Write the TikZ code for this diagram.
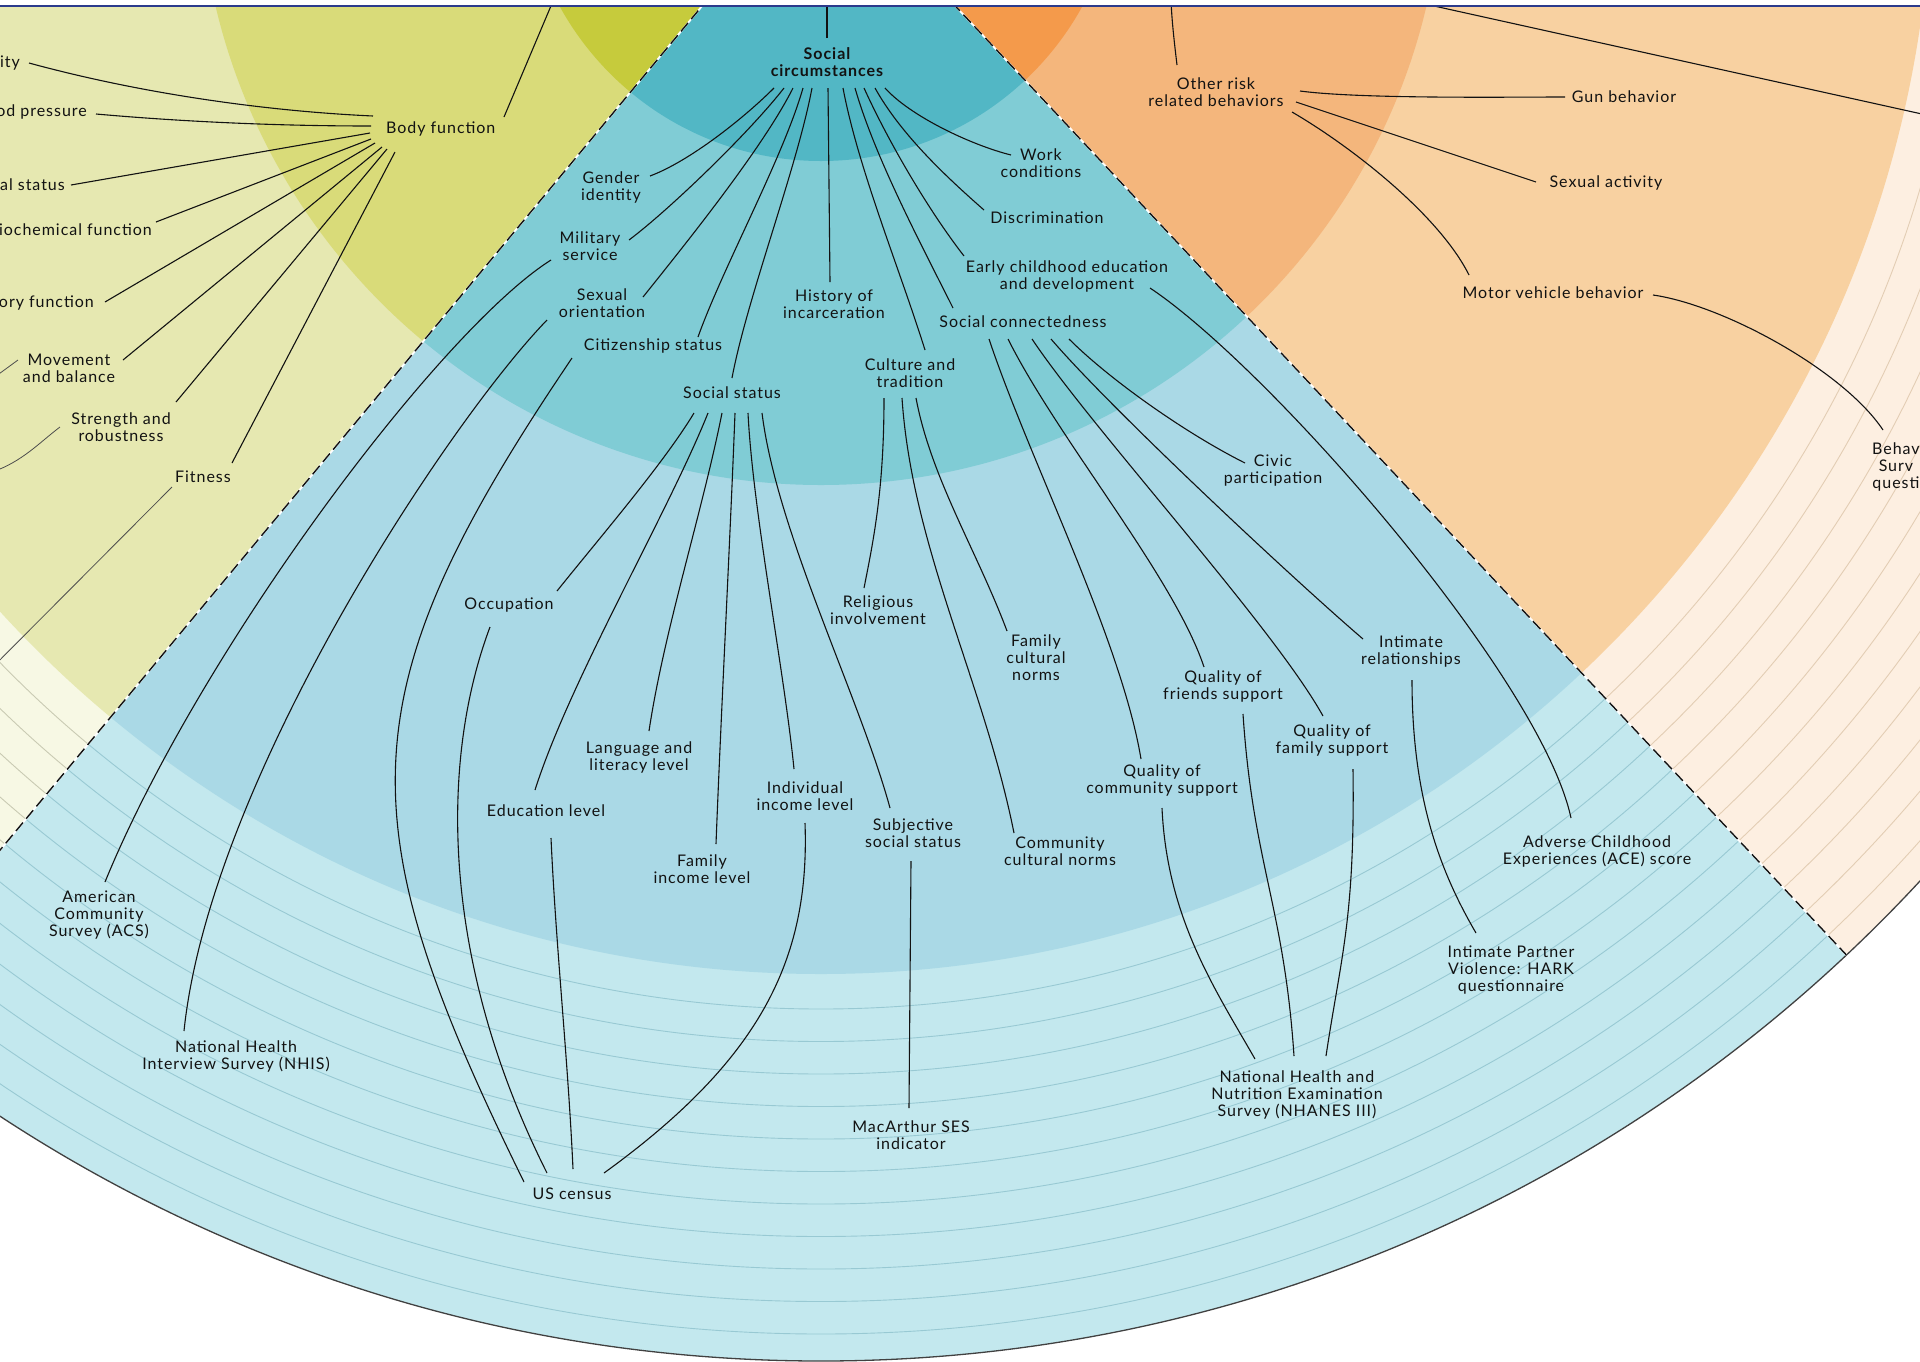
\documentclass[tikz,border=0pt]{standalone}
\usepackage{fontspec}
\setmainfont{Lato}[LetterSpace=6]
\usepackage{tikz}

\definecolor{ink}{HTML}{121212}
\definecolor{cenA}{HTML}{52B7C5}
\definecolor{cenB}{HTML}{80CCD5}
\definecolor{cenC}{HTML}{AAD9E6}
\definecolor{cenD}{HTML}{C3E8EE}
\definecolor{cenLine}{HTML}{98C9D3}
\definecolor{lefA}{HTML}{C6CB3C}
\definecolor{lefB}{HTML}{D9DB79}
\definecolor{lefC}{HTML}{E6E8B1}
\definecolor{lefD}{HTML}{F7F8E4}
\definecolor{lefLine}{HTML}{C9CAB3}
\definecolor{rigA}{HTML}{F49A4B}
\definecolor{rigB}{HTML}{F4B67C}
\definecolor{rigC}{HTML}{F8D1A1}
\definecolor{rigD}{HTML}{FDEFE1}
\definecolor{rigLine}{HTML}{E3CDB4}
\definecolor{frame}{HTML}{2B3A8C}

\newcommand{\lblsize}{\fontsize{16}{17}\selectfont}

\begin{document}
\begin{tikzpicture}[x=1pt, y=-1pt,
  lbl/.style={align=center, inner sep=1pt, text=ink, font=\lblsize},
  link/.style={draw=ink, line width=1.1pt},
  faint/.style={draw=ink!75, line width=0.8pt},
  ringline/.style={line width=0.9pt}]

\useasboundingbox (0,0) rectangle (1920,1361);
\clip (0,0) rectangle (1920,1361);

\coordinate (C) at (821,-137);

% left sector
\begin{scope}
\clip (C) -- (-841,1862) -- (-3000,1862) -- (-3000,-137) -- cycle;
\fill[lefD] (C) circle[radius=1498pt];
\fill[lefC] (C) circle[radius=1111pt];
\fill[lefB] (C) circle[radius=622pt];
\fill[lefA] (C) circle[radius=298pt];
\foreach \k [evaluate=\k as \r using 1146+32.5*\k] in {0,...,10}
  \draw[ringline, lefLine] (C) circle[radius=\r pt];
\end{scope}

% middle sector
\begin{scope}
\clip (C) -- (-841,1862) -- (2601,1758) -- cycle;
\fill[cenD] (C) circle[radius=1498pt];
\fill[cenC] (C) circle[radius=1111pt];
\fill[cenB] (C) circle[radius=622pt];
\fill[cenA] (C) circle[radius=298pt];
\foreach \k [evaluate=\k as \r using 1146+32.5*\k] in {0,...,10}
  \draw[ringline, cenLine] (C) circle[radius=\r pt];
\end{scope}

% right sector
\begin{scope}
\clip (C) -- (2601,1758) -- (4000,1758) -- (4000,-137) -- cycle;
\fill[rigD] (C) circle[radius=1498pt];
\fill[rigC] (C) circle[radius=1111pt];
\fill[rigB] (C) circle[radius=622pt];
\fill[rigA] (C) circle[radius=298pt];
\foreach \k [evaluate=\k as \r using 1146+32.5*\k] in {0,...,10}
  \draw[ringline, rigLine] (C) circle[radius=\r pt];
\end{scope}

\draw[ink!80, line width=1.3pt] (C) circle[radius=1498pt];

\foreach \a in {129.75, 46.8}{
  \draw[white, line width=1.8pt] (C) -- ++(\a:1498);
  \draw[ink, line width=1.4pt, dash pattern=on 11pt off 5pt] (C) -- ++(\a:1498);
}

\fill[white] (0,0) rectangle (1920,5);
\draw[frame, line width=2pt] (0,6) -- (1920,6);

% left labels
\node[lbl, anchor=east] (bfA) at (21,63) {ity};
\node[lbl, anchor=east] (bfB) at (88,112) {od pressure};
\node[lbl, anchor=east] (bfC) at (66,185) {al status};
\node[lbl, anchor=east] (bfD) at (153,230) {iochemical function};
\node[lbl, anchor=east] (bfE) at (95,303) {ory function};
\node[lbl] (move) at (69,368) {Movement\\and balance};
\node[lbl] (stren) at (121,427) {Strength and\\robustness};
\node[lbl] (fit) at (203,477) {Fitness};
\node[lbl, anchor=west] (body) at (385,129) {Body function};

% middle labels
\node[lbl, font=\lblsize\bfseries] (soc) at (827,62) {Social\\circumstances};
\node[lbl] (gend) at (611,187) {Gender\\identity};
\node[lbl] (mil) at (590,246) {Military\\service};
\node[lbl] (sexo) at (602,303) {Sexual\\orientation};
\node[lbl] (citz) at (653,346) {Citizenship status};
\node[lbl] (socst) at (732,393) {Social status};
\node[lbl] (hist) at (834,304) {History of\\incarceration};
\node[lbl] (cult) at (910,373) {Culture and\\tradition};
\node[lbl] (conn) at (1023,322) {Social connectedness};
\node[lbl] (early) at (1067,276) {Early childhood education\\and development};
\node[lbl] (disc) at (1047,218) {Discrimination};
\node[lbl] (work) at (1041,163) {Work\\conditions};
\node[lbl] (civic) at (1273,471) {Civic\\participation};
\node[lbl] (inti) at (1411,651) {Intimate\\relationships};
\node[lbl] (qfam) at (1332,740) {Quality of\\family support};
\node[lbl] (qfri) at (1223,686) {Quality of\\friends support};
\node[lbl] (qcom) at (1162,780) {Quality of\\community support};
\node[lbl] (famc) at (1036,658) {Family\\cultural\\norms};
\node[lbl] (relig) at (878,610) {Religious\\involvement};
\node[lbl] (comm) at (1060,851) {Community\\cultural norms};
\node[lbl] (subj) at (913,833) {Subjective\\social status};
\node[lbl] (indi) at (805,796) {Individual\\income level};
\node[lbl] (fami) at (702,869) {Family\\income level};
\node[lbl] (lang) at (639,757) {Language and\\literacy level};
\node[lbl] (edu) at (546,811) {Education level};
\node[lbl] (occ) at (509,605) {Occupation};

% sources
\node[lbl] (acs) at (99,915) {American\\Community\\Survey (ACS)};
\node[lbl] (nhis) at (236,1056) {National Health\\Interview Survey (NHIS)};
\node[lbl] (census) at (572,1194) {US census};
\node[lbl] (mac) at (911,1135) {MacArthur SES\\indicator};
\node[lbl] (nhanes) at (1297,1095) {National Health and\\Nutrition Examination\\Survey (NHANES III)};
\node[lbl] (ipv) at (1511,970) {Intimate Partner\\Violence: HARK\\questionnaire};
\node[lbl] (ace) at (1597,851) {Adverse Childhood\\Experiences (ACE) score};

% right labels
\node[lbl] (risk) at (1216,92) {Other risk\\related behaviors};
\node[lbl] (gun) at (1624,97) {Gun behavior};
\node[lbl] (sexa) at (1606,183) {Sexual activity};
\node[lbl] (motor) at (1553,293) {Motor vehicle behavior};
\node[lbl, anchor=west] (behav) at (1871,467) {Behav\\Surv\\questi};

\coordinate (bodyup) at (556,-6);
\coordinate (socup) at (827,-6);
\coordinate (moveout) at (-8,379);
\coordinate (strenout) at (-8,472);
\coordinate (fitout) at (-40,700);
\coordinate (riskup) at (1171,-6);
\coordinate (trA) at (1416,2);
\coordinate (trB) at (1940,118);

% body function
\draw[link] ([shift={(8,0)}]bfA.east) .. controls +(110,30) and +(-110,-5) .. ([shift={(-12,-13)}]body.west);
\draw[link] ([shift={(8,2)}]bfB.east) .. controls +(90,8) and +(-90,0) .. ([shift={(-14,-3)}]body.west);
\draw[link] ([shift={(5,0)}]bfC.east) -- ([shift={(-15,4)}]body.west);
\draw[link] ([shift={(3,-8)}]bfD.east) -- ([shift={(-14,10)}]body.west);
\draw[link] ([shift={(10,-1)}]bfE.east) -- ([shift={(-10,14)}]body.west);
\draw[link] ([shift={(54,-8)}]move.center) -- ([shift={(-3,18)}]body.west);
\draw[link] ([shift={(55,-25)}]stren.center) -- ([shift={(2,20)}]body.west);
\draw[link] ([shift={(29,-14)}]fit.center) -- ([shift={(10,23)}]body.west);
\draw[link] ([shift={(119,-12)}]body.west) -- (bodyup);
\draw[faint] (moveout) -- ([shift={(-51,-8)}]move.center);
\draw[faint] (strenout) .. controls +(30,-10) and +(-20,15) .. ([shift={(-61,0)}]stren.center);
\draw[faint] ([shift={(-31,10)}]fit.center) -- (fitout);

% social circumstances
\draw[link] ([shift={(0,-24)}]soc.center) -- (socup);
\draw[link] ([shift={(-53,26)}]soc.center) .. controls +(-30,30) and +(40,-15) .. ([shift={(39,-11)}]gend.center);
\draw[link] ([shift={(-43,26)}]soc.center) .. controls +(-35,45) and +(40,-30) .. ([shift={(39,-6)}]mil.center);
\draw[link] ([shift={(-34,26)}]soc.center) .. controls +(-30,60) and +(40,-50) .. ([shift={(41,-6)}]sexo.center);
\draw[link] ([shift={(-24,26)}]soc.center) .. controls +(-20,70) and +(25,-70) .. ([shift={(45,-9)}]citz.center);
\draw[link] ([shift={(-15,26)}]soc.center) .. controls +(-15,80) and +(15,-80) .. ([shift={(0,-15)}]socst.center);
\draw[link] ([shift={(1,26)}]soc.center) -- ([shift={(-4,-22)}]hist.center);
\draw[link] ([shift={(16,26)}]soc.center) .. controls +(15,80) and +(-25,-80) .. ([shift={(15,-23)}]cult.center);
\draw[link] ([shift={(28,26)}]soc.center) .. controls +(20,70) and +(-30,-60) .. ([shift={(-70,-14)}]conn.center);
\draw[link] ([shift={(37,26)}]soc.center) .. controls +(25,55) and +(-35,-45) .. ([shift={(-103,-20)}]early.center);
\draw[link] ([shift={(48,26)}]soc.center) .. controls +(25,45) and +(-40,-35) .. ([shift={(-63,-8)}]disc.center);
\draw[link] ([shift={(58,26)}]soc.center) .. controls +(25,28) and +(-40,-10) .. ([shift={(-30,-8)}]work.center);

% social status
\draw[link] ([shift={(-38,20)}]socst.center) .. controls +(-30,50) and +(40,-50) .. ([shift={(48,-14)}]occ.center);
\draw[link] ([shift={(-24,20)}]socst.center) .. controls +(-40,100) and +(35,-110) .. ([shift={(-11,-21)}]edu.center);
\draw[link] ([shift={(-10,20)}]socst.center) .. controls +(-20,100) and +(15,-100) .. ([shift={(10,-26)}]lang.center);
\draw[link] ([shift={(3,20)}]socst.center) .. controls +(-5,130) and +(5,-130) .. ([shift={(14,-25)}]fami.center);
\draw[link] ([shift={(16,20)}]socst.center) .. controls +(5,100) and +(-10,-100) .. ([shift={(-11,-27)}]indi.center);
\draw[link] ([shift={(30,20)}]socst.center) .. controls +(15,120) and +(-30,-110) .. ([shift={(-23,-25)}]subj.center);

% culture and tradition
\draw[link] ([shift={(-26,25)}]cult.center) .. controls +(0,90) and +(10,-50) .. ([shift={(-14,-22)}]relig.center);
\draw[link] ([shift={(-8,25)}]cult.center) .. controls +(10,150) and +(-30,-150) .. ([shift={(-46,-18)}]comm.center);
\draw[link] ([shift={(6,25)}]cult.center) .. controls +(15,80) and +(-30,-80) .. ([shift={(-29,-27)}]famc.center);

% social connectedness
\draw[link] ([shift={(-34,17)}]conn.center) .. controls +(40,120) and +(-20,-120) .. ([shift={(-21,-21)}]qcom.center);
\draw[link] ([shift={(-15,17)}]conn.center) .. controls +(50,100) and +(-30,-90) .. ([shift={(-19,-19)}]qfri.center);
\draw[link] ([shift={(9,17)}]conn.center) .. controls +(60,90) and +(-50,-90) .. ([shift={(-9,-24)}]qfam.center);
\draw[link] ([shift={(28,17)}]conn.center) .. controls +(60,70) and +(-70,-60) .. ([shift={(-48,-12)}]inti.center);
\draw[link] ([shift={(46,17)}]conn.center) .. controls +(40,40) and +(-60,-30) .. ([shift={(-28,-8)}]civic.center);

% measures
\draw[link] ([shift={(83,12)}]early.center) .. controls +(120,80) and +(-30,-140) .. ([shift={(-26,-33)}]ace.center);
\draw[link] ([shift={(1,29)}]inti.center) .. controls +(0,120) and +(-35,-60) .. ([shift={(-35,-37)}]ipv.center);
\draw[link] ([shift={(0,28)}]qcom.center) .. controls +(5,110) and +(-40,-70) .. ([shift={(-42,-36)}]nhanes.center);
\draw[link] ([shift={(20,28)}]qfri.center) .. controls +(10,150) and +(-10,-150) .. ([shift={(-3,-39)}]nhanes.center);
\draw[link] ([shift={(21,29)}]qfam.center) .. controls +(2,150) and +(15,-100) .. ([shift={(29,-39)}]nhanes.center);
\draw[link] ([shift={(-2,28)}]subj.center) -- ([shift={(-2,-27)}]mac.center);
\draw[link] ([shift={(-19,22)}]occ.center) .. controls +(-50,133) and +(-107,-213) .. ([shift={(-25,-21)}]census.center);
\draw[link] ([shift={(5,27)}]edu.center) .. controls +(5,110) and +(-5,-110) .. ([shift={(1,-25)}]census.center);
\draw[link] ([shift={(0,27)}]indi.center) .. controls +(5,137) and +(156,-113) .. ([shift={(32,-21)}]census.center);
\draw[link] ([shift={(-81,12)}]citz.center) .. controls +(-228,337) and +(-178,-362) .. ([shift={(-48,-12)}]census.center);
\draw[link] ([shift={(-55,17)}]sexo.center) .. controls +(-97,100) and +(26,-251) .. ([shift={(-52,-25)}]nhis.center);
\draw[link] ([shift={(-39,14)}]mil.center) .. controls +(-111,70) and +(95,-232) .. ([shift={(6,-33)}]acs.center);

% risk behaviors
\draw[link] ([shift={(-39,-27)}]risk.center) .. controls +(-3,-25) and +(0,20) .. (riskup);
\draw[link] ([shift={(84,-1)}]risk.center) .. controls +(60,8) and +(-60,0) .. ([shift={(-59,0)}]gun.center);
\draw[link] ([shift={(80,10)}]risk.center) -- ([shift={(-70,-1)}]sexa.center);
\draw[link] ([shift={(76,20)}]risk.center) .. controls +(60,35) and +(-30,-60) .. ([shift={(-84,-18)}]motor.center);
\draw[link] ([shift={(100,2)}]motor.center) .. controls +(70,10) and +(-40,-60) .. ([shift={(12,-37)}]behav.west);
\draw[link] (trA) -- (trB);

\fill[white] (0,0) rectangle (1920,5);
\draw[frame, line width=2pt] (0,6) -- (1920,6);

\end{tikzpicture}
\end{document}
